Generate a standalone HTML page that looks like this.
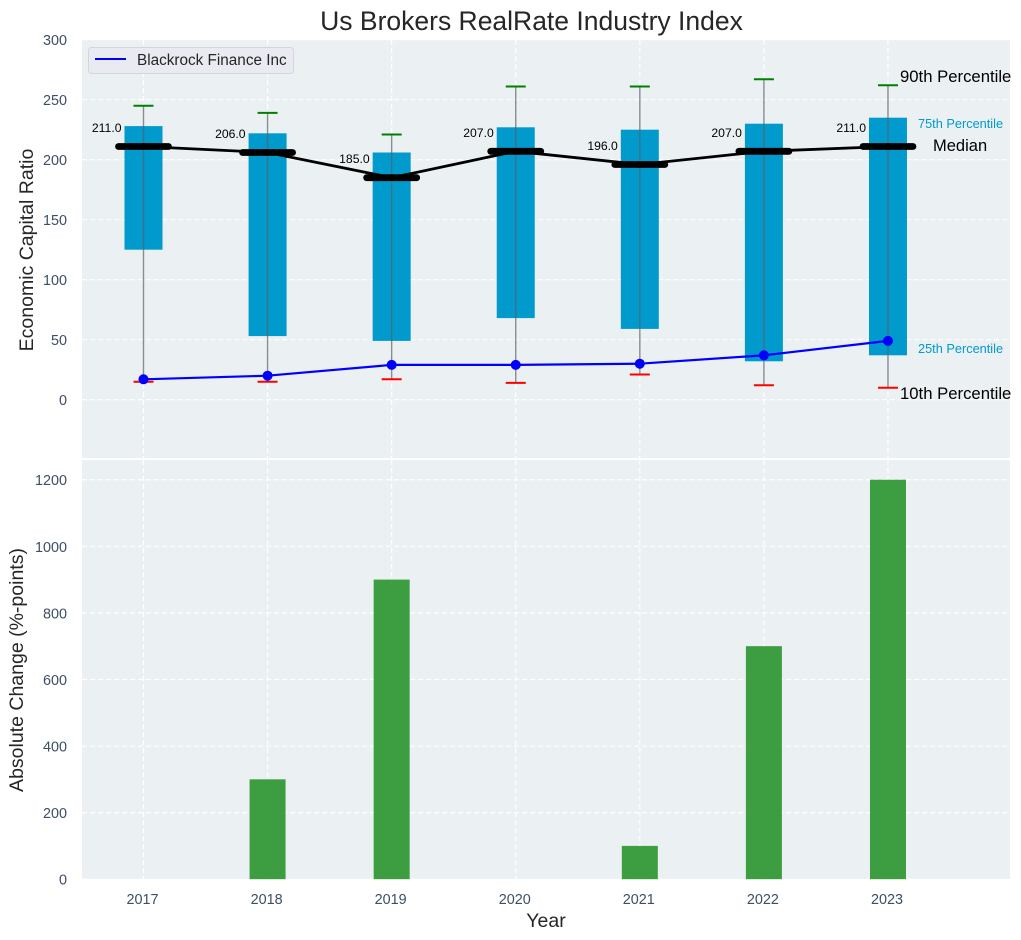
<!DOCTYPE html>
<html>
<head>
<meta charset="utf-8">
<title>Us Brokers RealRate Industry Index</title>
<style>
html,body{margin:0;padding:0;background:#fff;}
svg{display:block;font-family:"Liberation Sans",Arial,sans-serif;}
</style>
</head>
<body>
<svg id="chart" width="1021" height="940" viewBox="0 0 1021 940" xmlns="http://www.w3.org/2000/svg">
  <rect x="82" y="40" width="928" height="418" fill="#ebf0f2"/>
  <rect x="82" y="460" width="928" height="419" fill="#ebf0f2"/>
  <g id="grid"></g>
  <g id="marks"></g>
  <g id="ticks"></g>
  <text x="531.5" y="30" text-anchor="middle" font-size="26.5" fill="#262626">Us Brokers RealRate Industry Index</text>
  <text transform="translate(33,250) rotate(-90)" text-anchor="middle" font-size="19.5" fill="#262626">Economic Capital Ratio</text>
  <text transform="translate(23,670) rotate(-90)" text-anchor="middle" font-size="19.5" fill="#262626">Absolute Change (%-points)</text>
  <text x="546" y="927" text-anchor="middle" font-size="19.5" fill="#262626">Year</text>
  <g>
    <rect x="88.5" y="47.5" width="205" height="26" rx="3" fill="#eaeaf2" stroke="#d3d6dc" stroke-width="1"/>
    <line x1="95" y1="59" x2="126" y2="59" stroke="#0000ff" stroke-width="2"/>
    <text x="137" y="65" font-size="15.3" fill="#262626">Blackrock Finance Inc</text>
  </g>
  <text x="900" y="82" font-size="16.7" fill="#000">90th Percentile</text>
  <text x="918" y="128" font-size="12.75" fill="#009acd">75th Percentile</text>
  <text x="933" y="151" font-size="16.5" fill="#000">Median</text>
  <text x="918" y="353" font-size="12.75" fill="#009acd">25th Percentile</text>
  <text x="900" y="399" font-size="16.7" fill="#000">10th Percentile</text>
</svg>
<script>
const years = [2017, 2018, 2019, 2020, 2021, 2022, 2023];
const p90 = [245, 239, 221, 261, 261, 267, 262];
const p75 = [228, 222, 206, 227, 225, 230, 235];
const median = [211, 206, 185, 207, 196, 207, 211];
const p25 = [125, 53, 49, 68, 59, 32, 37];
const p10 = [15, 15, 17, 14, 21, 12, 10];
const company = [17, 20, 29, 29, 30, 37, 49];
const absChange = [0, 300, 900, 0, 100, 700, 1200];
const topTicks = [0, 50, 100, 150, 200, 250, 300];
const bottomTicks = [0, 200, 400, 600, 800, 1000, 1200];

const NS = 'http://www.w3.org/2000/svg';
const gridG = document.getElementById('grid');
const marks = document.getElementById('marks');
const ticksG = document.getElementById('ticks');

function xPos(year) { return 143.5 + (year - 2017) * 124.08; }
function yTop(v) { return 399.7 - v * 1.2; }
function yBottom(v) { return 879.2 - v * 0.3329; }

function mk(tag, parent, attrs, txt) {
  const e = document.createElementNS(NS, tag);
  Object.keys(attrs).forEach(function (k) { e.setAttribute(k, attrs[k]); });
  if (txt !== undefined) e.textContent = txt;
  parent.appendChild(e);
  return e;
}
const gridStyle = { stroke: '#ffffff', 'stroke-width': 1.2, 'stroke-dasharray': '5 3' };
let el;

topTicks.forEach(function (t) {
  el = mk('line', gridG, Object.assign({ x1: 82, x2: 1010, y1: yTop(t), y2: yTop(t) }, gridStyle));
  
  
  el = mk('text', ticksG, { x: 67, y: yTop(t) + 5.5, 'text-anchor': 'end', 'font-size': 14.4, fill: '#3d4f66' }, String(t));
  
  
});
bottomTicks.forEach(function (t) {
  el = mk('line', gridG, Object.assign({ x1: 82, x2: 1010, y1: yBottom(t), y2: yBottom(t) }, gridStyle));
  
  
  el = mk('text', ticksG, { x: 67, y: yBottom(t) + 5.5, 'text-anchor': 'end', 'font-size': 14.4, fill: '#3d4f66' }, String(t));
  
  
});
years.forEach(function (yr) {
  const x = xPos(yr);
  el = mk('line', gridG, Object.assign({ x1: x, x2: x, y1: 40, y2: 458 }, gridStyle));
  
  
  el = mk('line', gridG, Object.assign({ x1: x, x2: x, y1: 460, y2: 879 }, gridStyle));
  
  
  el = mk('text', ticksG, { x: x - 1, y: 904, 'text-anchor': 'middle', 'font-size': 14.4, fill: '#3d4f66' }, String(yr));
  
  
});

years.forEach(function (yr, i) {
  const x = xPos(yr);
  el = mk('rect', marks, { x: x - 19, y: yTop(p75[i]), width: 38, height: yTop(p25[i]) - yTop(p75[i]), fill: '#009acd' });
  
  
  el = mk('line', marks, { x1: x, x2: x, y1: yTop(p90[i]), y2: yTop(p10[i]), stroke: '#5a6066', 'stroke-opacity': 0.7, 'stroke-width': 1.4 });
  
  
  el = mk('line', marks, { x1: x - 10, x2: x + 10, y1: yTop(p90[i]), y2: yTop(p90[i]), stroke: '#008000', 'stroke-width': 2 });
  
  
  el = mk('line', marks, { x1: x - 10, x2: x + 10, y1: yTop(p10[i]), y2: yTop(p10[i]), stroke: '#ff0000', 'stroke-width': 2 });
  
  
  el = mk('rect', marks, { x: x - 18, y: yBottom(absChange[i]), width: 36, height: yBottom(0) - yBottom(absChange[i]), fill: '#2e9632', 'fill-opacity': 0.92 });
  
  
});

el = mk('polyline', marks, { points: years.map(function (yr, i) { return xPos(yr) + ',' + yTop(median[i]); }).join(' '), fill: 'none', stroke: '#000', 'stroke-width': 2.8 });



years.forEach(function (yr, i) {
  const x = xPos(yr);
  el = mk('line', marks, { x1: x - 25, x2: x + 25, y1: yTop(median[i]), y2: yTop(median[i]), stroke: '#000', 'stroke-width': 6.8, 'stroke-linecap': 'round' });
  
  
  el = mk('text', marks, { x: x - 22, y: yTop(median[i]) - 14.5, 'text-anchor': 'end', 'font-size': 12.2, fill: '#000' }, median[i].toFixed(1));
  
  
});

el = mk('polyline', marks, { points: years.map(function (yr, i) { return xPos(yr) + ',' + yTop(company[i]); }).join(' '), fill: 'none', stroke: '#0000ff', 'stroke-width': 2.2 });



years.forEach(function (yr, i) {
  el = mk('circle', marks, { cx: xPos(yr), cy: yTop(company[i]), r: 5, fill: '#0000ff' });
  
  
});
</script>
</body>
</html>
